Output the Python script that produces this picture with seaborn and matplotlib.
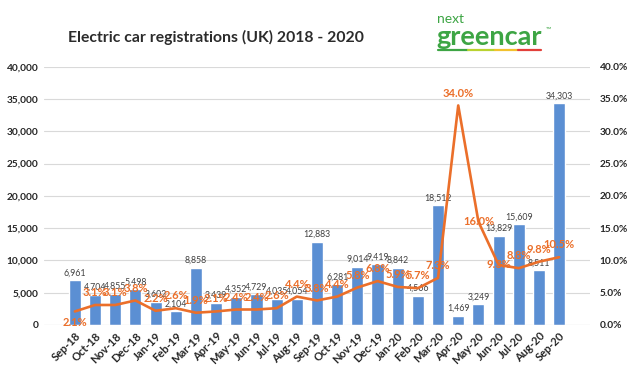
import matplotlib
matplotlib.use("Agg")
import matplotlib.pyplot as plt
from matplotlib.lines import Line2D
import seaborn as sns
import pandas as pd

# Data
months = ["Sep-18", "Oct-18", "Nov-18", "Dec-18", "Jan-19", "Feb-19", "Mar-19",
          "Apr-19", "May-19", "Jun-19", "Jul-19", "Aug-19", "Sep-19", "Oct-19",
          "Nov-19", "Dec-19", "Jan-20", "Feb-20", "Mar-20", "Apr-20", "May-20",
          "Jun-20", "Jul-20", "Aug-20", "Sep-20"]
registrations = [6961, 4704, 4855, 5498, 3602, 2104, 8858, 3439, 4352, 4729,
                 4035, 4054, 12883, 6281, 9014, 9419, 8842, 4566, 18512, 1469,
                 3249, 13829, 15609, 8511, 34303]
market_share = [2.1, 3.1, 3.1, 3.8, 2.2, 2.6, 1.9, 2.1, 2.4, 2.4, 2.6, 4.4,
                3.8, 4.4, 5.8, 6.8, 5.9, 5.7, 7.3, 34.0, 16.0, 9.3, 8.8, 9.8, 10.5]

df = pd.DataFrame({"month": months, "registrations": registrations,
                   "share": market_share})

BAR = "#5B8FD3"
LINE = "#EB6F2A"
GREEN = "#3DA544"

sns.set_style("white")
plt.rcParams["font.family"] = ["Lato", "DejaVu Sans"]

fig = plt.figure(figsize=(6.3, 3.73), dpi=100)
ax = fig.add_axes([44 / 630, 48 / 373, 546 / 630, 258.3 / 373])

sns.barplot(data=df, x="month", y="registrations", color=BAR, width=0.6,
            saturation=1, ax=ax)
ax.bar_label(ax.containers[0], labels=[f"{v:,}" for v in registrations],
             fontsize=6.3, color="#404040", padding=2)

ax.set_ylim(0, 40000)
ax.set_yticks(range(0, 40001, 5000))
ax.set_yticklabels([f"{v:,}" for v in range(0, 40001, 5000)],
                   fontsize=7.3, fontweight="bold", color="#262626")
ax.set_xlabel("")
ax.set_ylabel("")
ax.yaxis.grid(True, color="#D9D9D9", linewidth=0.8)
ax.set_axisbelow(True)
ax.tick_params(length=0, pad=4)
for s in ax.spines.values():
    s.set_visible(False)
ax.axhline(0, color="#D9D9D9", linewidth=0.8)

plt.setp(ax.get_xticklabels(), rotation=45, ha="right", rotation_mode="anchor",
         fontsize=8, fontweight="bold", color="#262626")

ax2 = ax.twinx()
sns.lineplot(x=list(range(len(months))), y=market_share, ax=ax2, color=LINE,
             linewidth=1.9, sort=False)
ax2.set_xlim(ax.get_xlim())
ax2.set_ylim(0, 40)
ax2.set_yticks(range(0, 41, 5))
ax2.set_yticklabels([f"{v:.1f}%" for v in range(0, 41, 5)],
                    fontsize=7.3, fontweight="bold", color="#262626")
ax2.tick_params(length=0, pad=7)
ax2.set_ylabel("")
for s in ax2.spines.values():
    s.set_visible(False)

# label placement for the percentage line
below = {"Sep-18"}
centered = {"May-20", "Jun-20"}
for i, (m, v) in enumerate(zip(months, market_share)):
    if m in below:
        dy, va = -4, "top"
    elif m in centered:
        dy, va = 0, "center"
    else:
        dy, va = 5, "bottom"
    ax2.annotate(f"{v:.1f}%", (i, v), xytext=(0, dy), textcoords="offset points",
                 ha="center", va=va, fontsize=8, fontweight="bold", color=LINE)

# title and logo
fig.text(68 / 630, 1 - 37 / 373, "Electric car registrations (UK) 2018 - 2020",
         fontsize=11.3, fontweight="bold", color="#2b2b2b", va="center")
fig.text(437 / 630, 1 - 19 / 373, "next", fontsize=10, color=GREEN, va="center")
fig.text(436 / 630, 1 - 37 / 373, "greencar", fontsize=19.5, fontweight="bold",
         color=GREEN, va="center")
fig.text(546 / 630, 1 - 29 / 373, "™", fontsize=5, color=GREEN, va="center")
stripe = [("#3DA544", 438, 468), ("#B9D230", 468, 495), ("#F2C12E", 495, 518),
          ("#E2403A", 518, 541)]
for c, x0, x1 in stripe:
    fig.add_artist(Line2D([x0 / 630, x1 / 630], [1 - 50 / 373, 1 - 50 / 373],
                          color=c, linewidth=1.6, transform=fig.transFigure))

fig.savefig("out.png", dpi=100, facecolor="white")
